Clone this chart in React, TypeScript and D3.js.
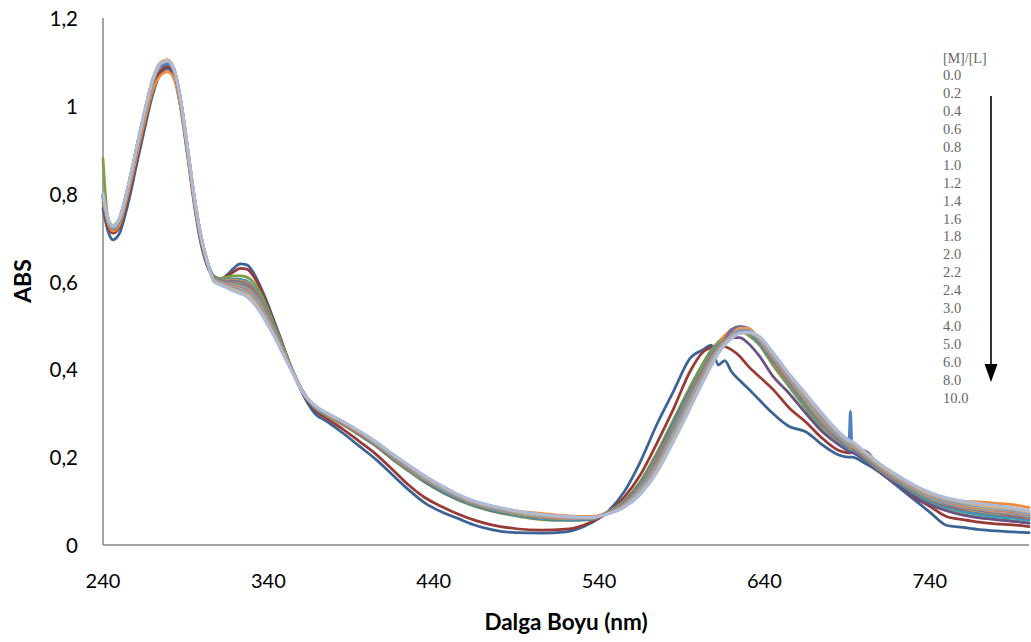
import React, { useEffect, useRef } from 'react';
import * as d3 from 'd3';

const WAVELENGTHS = [240, 243, 246, 250, 255, 260, 265, 270, 275, 279, 283, 287, 291, 295, 299, 303,
  307, 311, 315, 319, 323, 327, 331, 335, 339, 343, 347, 351, 355, 360,
  368, 376, 385, 395, 405, 415, 425, 435, 445, 455, 465, 475, 490, 505, 520, 535,
  545, 555, 565, 575, 585, 595, 603, 608, 612, 616, 620, 625, 630, 637, 645, 655, 665, 675, 685,
  691, 692, 693, 700, 710, 720, 730, 740, 750, 760, 770, 780, 790, 800];

const S_0_0 = [0.765, 0.715, 0.695, 0.71, 0.775, 0.86, 0.945, 1.025, 1.075, 1.085, 1.065, 0.995, 0.89, 0.78, 0.69, 0.635,
  0.61, 0.605, 0.615, 0.63, 0.64, 0.638, 0.62, 0.59, 0.555, 0.515, 0.475, 0.432, 0.392, 0.35,
  0.3, 0.28, 0.255, 0.225, 0.195, 0.16, 0.125, 0.095, 0.075, 0.06, 0.045, 0.035, 0.028, 0.027, 0.03, 0.05,
  0.075, 0.12, 0.19, 0.275, 0.35, 0.425, 0.445, 0.455, 0.41, 0.42, 0.395, 0.375, 0.357, 0.33, 0.3, 0.27, 0.258, 0.228, 0.205,
  0.2, 0.2, 0.2, 0.188, 0.165, 0.135, 0.105, 0.075, 0.045, 0.04, 0.035, 0.032, 0.03, 0.028];
const S_0_2 = [0.78, 0.725, 0.71, 0.725, 0.79, 0.875, 0.96, 1.035, 1.08, 1.09, 1.07, 1.0, 0.895, 0.785, 0.695, 0.64,
  0.612, 0.605, 0.612, 0.622, 0.63, 0.628, 0.612, 0.585, 0.55, 0.512, 0.473, 0.432, 0.392, 0.352,
  0.307, 0.286, 0.264, 0.236, 0.207, 0.172, 0.136, 0.107, 0.087, 0.07, 0.056, 0.046, 0.037, 0.034, 0.036, 0.052,
  0.073, 0.108, 0.16, 0.232, 0.31, 0.395, 0.44, 0.45, 0.455, 0.452, 0.445, 0.43, 0.408, 0.383, 0.355, 0.312, 0.28, 0.243, 0.215,
  0.21, 0.21, 0.212, 0.215, 0.175, 0.14, 0.11, 0.088, 0.065, 0.058, 0.052, 0.048, 0.046, 0.042];
const S_0_4 = [0.88, 0.745, 0.728, 0.745, 0.815, 0.9, 0.985, 1.06, 1.098, 1.102, 1.082, 1.012, 0.907, 0.797, 0.707, 0.647,
  0.612, 0.607, 0.61, 0.613, 0.613, 0.61, 0.598, 0.575, 0.543, 0.507, 0.47, 0.432, 0.395, 0.355,
  0.312, 0.293, 0.274, 0.25, 0.225, 0.195, 0.168, 0.142, 0.12, 0.102, 0.088, 0.077, 0.066, 0.058, 0.056, 0.058,
  0.075, 0.1, 0.145, 0.21, 0.285, 0.36, 0.415, 0.445, 0.462, 0.475, 0.485, 0.487, 0.478, 0.455, 0.41, 0.36, 0.31, 0.262, 0.23,
  0.215, 0.213, 0.212, 0.195, 0.165, 0.14, 0.115, 0.095, 0.08, 0.07, 0.063, 0.058, 0.055, 0.05];
const S_0_6 = [0.79, 0.738, 0.72, 0.738, 0.808, 0.893, 0.978, 1.053, 1.093, 1.098, 1.078, 1.008, 0.903, 0.793, 0.703, 0.645,
  0.61, 0.603, 0.603, 0.603, 0.602, 0.598, 0.586, 0.565, 0.535, 0.5, 0.465, 0.428, 0.393, 0.353,
  0.313, 0.294, 0.275, 0.252, 0.227, 0.197, 0.17, 0.144, 0.122, 0.104, 0.09, 0.079, 0.068, 0.06, 0.057, 0.059,
  0.074, 0.098, 0.14, 0.203, 0.278, 0.352, 0.405, 0.435, 0.452, 0.465, 0.472, 0.472, 0.46, 0.43, 0.385, 0.345, 0.3, 0.258, 0.228,
  0.214, 0.212, 0.211, 0.195, 0.165, 0.138, 0.112, 0.092, 0.078, 0.068, 0.062, 0.058, 0.054, 0.05];
const S_0_8 = [0.795, 0.74, 0.722, 0.74, 0.81, 0.895, 0.98, 1.055, 1.095, 1.1, 1.08, 1.01, 0.905, 0.795, 0.705, 0.645,
  0.61, 0.604, 0.605, 0.606, 0.605, 0.601, 0.588, 0.566, 0.535, 0.501, 0.466, 0.429, 0.394, 0.354,
  0.313, 0.294, 0.276, 0.252, 0.227, 0.198, 0.171, 0.145, 0.123, 0.105, 0.09, 0.08, 0.068, 0.06, 0.058, 0.059,
  0.074, 0.097, 0.139, 0.201, 0.275, 0.35, 0.406, 0.438, 0.457, 0.471, 0.487, 0.491, 0.484, 0.459, 0.416, 0.366, 0.317, 0.27, 0.236,
  0.22, 0.218, 0.217, 0.199, 0.169, 0.144, 0.12, 0.1, 0.086, 0.076, 0.069, 0.064, 0.061, 0.056];
const S_1_0 = [0.785, 0.732, 0.715, 0.73, 0.798, 0.88, 0.963, 1.035, 1.07, 1.078, 1.062, 0.995, 0.893, 0.785, 0.697, 0.64,
  0.608, 0.603, 0.603, 0.603, 0.601, 0.597, 0.584, 0.562, 0.532, 0.498, 0.463, 0.428, 0.394, 0.354,
  0.314, 0.295, 0.276, 0.253, 0.228, 0.199, 0.172, 0.147, 0.13, 0.112, 0.098, 0.088, 0.078, 0.072, 0.067, 0.065,
  0.074, 0.096, 0.136, 0.197, 0.27, 0.345, 0.402, 0.434, 0.454, 0.477, 0.489, 0.494, 0.488, 0.467, 0.419, 0.369, 0.321, 0.273, 0.238,
  0.223, 0.221, 0.219, 0.201, 0.171, 0.146, 0.128, 0.115, 0.105, 0.1, 0.098, 0.095, 0.092, 0.085];
const S_1_2 = [0.792, 0.738, 0.72, 0.738, 0.808, 0.893, 0.978, 1.053, 1.09, 1.095, 1.076, 1.007, 0.903, 0.795, 0.705, 0.645,
  0.608, 0.602, 0.601, 0.601, 0.599, 0.594, 0.581, 0.559, 0.53, 0.497, 0.462, 0.427, 0.393, 0.354,
  0.314, 0.295, 0.277, 0.254, 0.229, 0.2, 0.173, 0.147, 0.125, 0.107, 0.092, 0.082, 0.07, 0.062, 0.059, 0.06,
  0.073, 0.095, 0.135, 0.194, 0.268, 0.343, 0.4, 0.432, 0.453, 0.468, 0.49, 0.495, 0.49, 0.462, 0.421, 0.371, 0.322, 0.275, 0.24,
  0.224, 0.305, 0.222, 0.202, 0.172, 0.147, 0.123, 0.104, 0.09, 0.081, 0.074, 0.069, 0.066, 0.06];
const S_1_4 = [0.795, 0.74, 0.722, 0.74, 0.81, 0.895, 0.98, 1.055, 1.095, 1.1, 1.08, 1.01, 0.905, 0.795, 0.705, 0.645,
  0.607, 0.601, 0.6, 0.599, 0.597, 0.592, 0.579, 0.557, 0.528, 0.495, 0.461, 0.426, 0.393, 0.354,
  0.314, 0.296, 0.277, 0.254, 0.229, 0.2, 0.174, 0.148, 0.126, 0.107, 0.093, 0.082, 0.071, 0.063, 0.06, 0.06,
  0.073, 0.094, 0.133, 0.192, 0.265, 0.34, 0.398, 0.43, 0.451, 0.467, 0.49, 0.496, 0.492, 0.463, 0.422, 0.372, 0.324, 0.277, 0.241,
  0.225, 0.223, 0.222, 0.203, 0.173, 0.148, 0.124, 0.105, 0.091, 0.082, 0.076, 0.071, 0.067, 0.061];
const S_1_6 = [0.797, 0.742, 0.724, 0.742, 0.812, 0.897, 0.982, 1.057, 1.097, 1.102, 1.082, 1.012, 0.907, 0.797, 0.707, 0.646,
  0.607, 0.6, 0.599, 0.597, 0.595, 0.59, 0.576, 0.555, 0.526, 0.494, 0.46, 0.426, 0.393, 0.354,
  0.315, 0.296, 0.278, 0.255, 0.23, 0.201, 0.174, 0.149, 0.127, 0.108, 0.093, 0.083, 0.071, 0.063, 0.06, 0.06,
  0.073, 0.093, 0.132, 0.19, 0.263, 0.338, 0.396, 0.428, 0.45, 0.466, 0.49, 0.497, 0.493, 0.464, 0.424, 0.374, 0.326, 0.279, 0.243,
  0.226, 0.224, 0.223, 0.204, 0.174, 0.149, 0.125, 0.106, 0.093, 0.084, 0.077, 0.072, 0.069, 0.063];
const S_1_8 = [0.795, 0.74, 0.722, 0.74, 0.81, 0.895, 0.98, 1.055, 1.095, 1.1, 1.08, 1.01, 0.905, 0.795, 0.705, 0.645,
  0.606, 0.6, 0.598, 0.596, 0.593, 0.588, 0.574, 0.553, 0.524, 0.493, 0.459, 0.425, 0.393, 0.354,
  0.315, 0.297, 0.278, 0.255, 0.231, 0.202, 0.175, 0.15, 0.128, 0.109, 0.094, 0.084, 0.072, 0.064, 0.061, 0.061,
  0.073, 0.093, 0.13, 0.188, 0.26, 0.335, 0.394, 0.427, 0.449, 0.465, 0.49, 0.497, 0.494, 0.465, 0.425, 0.375, 0.328, 0.281, 0.244,
  0.228, 0.226, 0.224, 0.205, 0.175, 0.15, 0.127, 0.108, 0.094, 0.085, 0.079, 0.074, 0.07, 0.064];
const S_2_0 = [0.798, 0.743, 0.725, 0.743, 0.813, 0.898, 0.983, 1.058, 1.098, 1.103, 1.083, 1.013, 0.908, 0.798, 0.708, 0.647,
  0.605, 0.599, 0.596, 0.594, 0.59, 0.585, 0.572, 0.55, 0.522, 0.491, 0.458, 0.424, 0.392, 0.353,
  0.315, 0.297, 0.278, 0.256, 0.231, 0.202, 0.176, 0.15, 0.128, 0.109, 0.095, 0.084, 0.073, 0.065, 0.061, 0.061,
  0.072, 0.092, 0.129, 0.185, 0.258, 0.333, 0.391, 0.425, 0.447, 0.464, 0.477, 0.494, 0.494, 0.466, 0.427, 0.377, 0.329, 0.283, 0.245,
  0.229, 0.227, 0.225, 0.206, 0.176, 0.151, 0.128, 0.109, 0.095, 0.087, 0.081, 0.076, 0.072, 0.065];
const S_2_2 = [0.796, 0.741, 0.723, 0.741, 0.811, 0.896, 0.981, 1.056, 1.096, 1.101, 1.081, 1.011, 0.906, 0.796, 0.706, 0.646,
  0.605, 0.598, 0.595, 0.592, 0.588, 0.583, 0.569, 0.548, 0.52, 0.49, 0.457, 0.424, 0.392, 0.353,
  0.316, 0.297, 0.279, 0.256, 0.232, 0.203, 0.176, 0.151, 0.129, 0.11, 0.095, 0.085, 0.073, 0.065, 0.061, 0.061,
  0.072, 0.091, 0.127, 0.183, 0.255, 0.33, 0.389, 0.423, 0.446, 0.463, 0.476, 0.493, 0.493, 0.467, 0.428, 0.378, 0.331, 0.285, 0.247,
  0.23, 0.228, 0.226, 0.207, 0.177, 0.152, 0.129, 0.11, 0.097, 0.088, 0.082, 0.077, 0.073, 0.067];
const S_2_4 = [0.797, 0.742, 0.724, 0.742, 0.812, 0.897, 0.982, 1.057, 1.097, 1.102, 1.082, 1.012, 0.907, 0.797, 0.707, 0.646,
  0.604, 0.597, 0.594, 0.59, 0.586, 0.581, 0.567, 0.546, 0.518, 0.488, 0.456, 0.423, 0.392, 0.353,
  0.316, 0.298, 0.279, 0.257, 0.232, 0.203, 0.177, 0.152, 0.13, 0.11, 0.096, 0.085, 0.074, 0.066, 0.062, 0.061,
  0.072, 0.09, 0.126, 0.181, 0.253, 0.328, 0.387, 0.421, 0.444, 0.462, 0.475, 0.488, 0.488, 0.468, 0.43, 0.38, 0.333, 0.287, 0.248,
  0.231, 0.229, 0.228, 0.208, 0.178, 0.153, 0.13, 0.111, 0.098, 0.09, 0.084, 0.079, 0.075, 0.068];
const S_3_0 = [0.798, 0.743, 0.725, 0.743, 0.813, 0.898, 0.983, 1.058, 1.098, 1.103, 1.083, 1.013, 0.908, 0.798, 0.708, 0.647,
  0.604, 0.597, 0.593, 0.589, 0.584, 0.579, 0.564, 0.544, 0.516, 0.487, 0.455, 0.422, 0.392, 0.353,
  0.316, 0.298, 0.28, 0.257, 0.233, 0.204, 0.178, 0.153, 0.131, 0.111, 0.096, 0.086, 0.074, 0.066, 0.062, 0.062,
  0.072, 0.09, 0.124, 0.179, 0.25, 0.325, 0.385, 0.419, 0.443, 0.461, 0.475, 0.484, 0.483, 0.469, 0.431, 0.381, 0.335, 0.289, 0.25,
  0.233, 0.231, 0.229, 0.209, 0.179, 0.154, 0.131, 0.113, 0.1, 0.091, 0.085, 0.08, 0.076, 0.07];
const S_4_0 = [0.796, 0.741, 0.723, 0.741, 0.811, 0.896, 0.981, 1.056, 1.096, 1.101, 1.081, 1.011, 0.906, 0.796, 0.706, 0.646,
  0.603, 0.596, 0.591, 0.587, 0.582, 0.576, 0.562, 0.541, 0.515, 0.485, 0.454, 0.422, 0.391, 0.353,
  0.317, 0.298, 0.28, 0.258, 0.233, 0.205, 0.179, 0.153, 0.131, 0.112, 0.097, 0.087, 0.075, 0.067, 0.063, 0.062,
  0.071, 0.089, 0.123, 0.176, 0.248, 0.323, 0.383, 0.417, 0.442, 0.46, 0.474, 0.483, 0.483, 0.47, 0.433, 0.383, 0.336, 0.291, 0.251,
  0.234, 0.232, 0.23, 0.21, 0.18, 0.155, 0.132, 0.114, 0.101, 0.093, 0.087, 0.082, 0.078, 0.071];
const S_5_0 = [0.799, 0.744, 0.726, 0.744, 0.814, 0.899, 0.984, 1.059, 1.099, 1.104, 1.084, 1.014, 0.909, 0.799, 0.709, 0.647,
  0.602, 0.595, 0.59, 0.585, 0.58, 0.574, 0.56, 0.539, 0.513, 0.484, 0.452, 0.421, 0.391, 0.353,
  0.317, 0.299, 0.28, 0.258, 0.234, 0.205, 0.179, 0.154, 0.132, 0.112, 0.098, 0.087, 0.076, 0.068, 0.063, 0.062,
  0.071, 0.088, 0.121, 0.174, 0.245, 0.32, 0.381, 0.415, 0.44, 0.459, 0.473, 0.483, 0.484, 0.471, 0.434, 0.384, 0.338, 0.292, 0.252,
  0.235, 0.233, 0.231, 0.211, 0.181, 0.156, 0.133, 0.115, 0.102, 0.094, 0.089, 0.084, 0.079, 0.072];
const S_6_0 = [0.797, 0.742, 0.724, 0.742, 0.812, 0.897, 0.982, 1.057, 1.097, 1.102, 1.082, 1.012, 0.907, 0.797, 0.707, 0.646,
  0.602, 0.594, 0.589, 0.583, 0.578, 0.572, 0.557, 0.537, 0.511, 0.482, 0.451, 0.42, 0.391, 0.352,
  0.317, 0.299, 0.281, 0.259, 0.234, 0.206, 0.18, 0.155, 0.133, 0.113, 0.098, 0.088, 0.076, 0.068, 0.064, 0.062,
  0.071, 0.087, 0.12, 0.172, 0.243, 0.318, 0.378, 0.414, 0.439, 0.458, 0.472, 0.483, 0.484, 0.472, 0.436, 0.386, 0.34, 0.294, 0.254,
  0.236, 0.234, 0.232, 0.212, 0.182, 0.157, 0.135, 0.116, 0.104, 0.096, 0.09, 0.085, 0.081, 0.074];
const S_8_0 = [0.8, 0.745, 0.727, 0.745, 0.815, 0.9, 0.985, 1.06, 1.1, 1.105, 1.085, 1.015, 0.91, 0.8, 0.71, 0.648,
  0.601, 0.593, 0.587, 0.581, 0.575, 0.569, 0.554, 0.534, 0.508, 0.48, 0.45, 0.419, 0.39, 0.352,
  0.318, 0.299, 0.281, 0.259, 0.235, 0.207, 0.181, 0.156, 0.134, 0.114, 0.099, 0.089, 0.077, 0.069, 0.064, 0.063,
  0.07, 0.086, 0.117, 0.169, 0.239, 0.314, 0.375, 0.411, 0.437, 0.457, 0.471, 0.482, 0.484, 0.473, 0.438, 0.388, 0.342, 0.297, 0.256,
  0.238, 0.236, 0.234, 0.213, 0.183, 0.158, 0.136, 0.118, 0.106, 0.098, 0.092, 0.087, 0.083, 0.076];
const S_10_0 = [0.8, 0.745, 0.727, 0.745, 0.815, 0.9, 0.985, 1.058, 1.097, 1.103, 1.083, 1.013, 0.908, 0.798, 0.708, 0.647,
  0.6, 0.592, 0.585, 0.578, 0.572, 0.565, 0.55, 0.53, 0.505, 0.478, 0.448, 0.418, 0.39, 0.352,
  0.318, 0.3, 0.282, 0.26, 0.236, 0.208, 0.182, 0.157, 0.135, 0.115, 0.1, 0.09, 0.078, 0.07, 0.065, 0.063,
  0.07, 0.085, 0.115, 0.165, 0.235, 0.31, 0.372, 0.408, 0.435, 0.455, 0.47, 0.482, 0.485, 0.475, 0.44, 0.39, 0.345, 0.3, 0.258,
  0.24, 0.238, 0.236, 0.215, 0.185, 0.16, 0.138, 0.12, 0.108, 0.1, 0.095, 0.09, 0.085, 0.078];

const SERIES_VALUES = [S_0_0, S_0_2, S_0_4, S_0_6, S_0_8, S_1_0, S_1_2, S_1_4, S_1_6, S_1_8,
  S_2_0, S_2_2, S_2_4, S_3_0, S_4_0, S_5_0, S_6_0, S_8_0, S_10_0];
const SERIES_LABELS = ['0.0', '0.2', '0.4', '0.6', '0.8', '1.0', '1.2', '1.4', '1.6', '1.8',
  '2.0', '2.2', '2.4', '3.0', '4.0', '5.0', '6.0', '8.0', '10.0'];
const SERIES_COLORS = ['#3B6396', '#983A36', '#7F9E45', '#6A5287', '#3B9BB5', '#F28A3C', '#4F81BD', '#C0504D',
  '#9BBB59', '#8064A2', '#4BACC6', '#F79646', '#729ACA', '#CD7371', '#AFC97A', '#9983B5', '#6FBDD1', '#F9AB6B', '#AABCDD'];
const LEGEND_TITLE = '[M]/[L]';
const X_TICKS = [240, 340, 440, 540, 640, 740];
const Y_TICKS = [0, 0.2, 0.4, 0.6, 0.8, 1, 1.2];
const Y_TICK_LABELS = ['0', '0,2', '0,4', '0,6', '0,8', '1', '1,2'];
const X_TITLE = 'Dalga Boyu (nm)';
const Y_TITLE = 'ABS';

export default function App() {
  const ref = useRef<SVGSVGElement>(null);
  useEffect(() => {
    const svg = d3.select(ref.current);
    svg.selectAll('*').remove();
    const x = d3.scaleLinear().domain([240, 800]).range([103, 1029]);
    const y = d3.scaleLinear().domain([0, 1.2]).range([545, 18]);
    const font = 'Lato, "Open Sans", sans-serif';

    const axisColor = '#868686';
    svg.append('line').attr('x1', x(240)).attr('x2', x(240)).attr('y1', y(1.2)).attr('y2', y(0))
      .attr('stroke', axisColor).attr('stroke-width', 1.5);
    svg.append('line').attr('x1', x(240)).attr('x2', x(800)).attr('y1', y(0)).attr('y2', y(0))
      .attr('stroke', axisColor).attr('stroke-width', 1.5);

    const line = d3.line<number>()
      .x((_, i) => x(WAVELENGTHS[i]))
      .y((d) => y(d))
      .curve(d3.curveMonotoneX);

    SERIES_VALUES.forEach((vals, i) => {
      svg.append('path').attr('d', line(vals) || '').attr('fill', 'none')
        .attr('stroke', SERIES_COLORS[i]).attr('stroke-width', 2.75)
        .attr('stroke-linejoin', 'round').attr('stroke-linecap', 'round');
    });

    Y_TICKS.forEach((v, i) => {
      svg.append('text').attr('x', 78).attr('y', y(v)).attr('text-anchor', 'end')
        .attr('dominant-baseline', 'central').attr('font-family', font).attr('font-size', 20.5)
        .attr('fill', '#000').text(Y_TICK_LABELS[i]);
    });
    X_TICKS.forEach((v) => {
      svg.append('text').attr('x', x(v)).attr('y', 580).attr('text-anchor', 'middle')
        .attr('dominant-baseline', 'central').attr('font-family', font).attr('font-size', 20)
        .attr('fill', '#000').text(String(v));
    });
    svg.append('text').attr('x', 566).attr('y', 621).attr('text-anchor', 'middle')
      .attr('dominant-baseline', 'central').attr('font-family', font).attr('font-size', 22.5)
      .attr('font-weight', 'bold').attr('fill', '#000').text(X_TITLE);
    svg.append('text').attr('transform', 'translate(22,281) rotate(-90)').attr('text-anchor', 'middle')
      .attr('dominant-baseline', 'central').attr('font-family', font).attr('font-size', 23)
      .attr('font-weight', 'bold').attr('fill', '#000').text(Y_TITLE);

    const legFont = '"Liberation Serif", "DejaVu Serif", serif';
    svg.append('text').attr('x', 943).attr('y', 58).attr('dominant-baseline', 'central')
      .attr('font-family', legFont).attr('font-size', 14).attr('fill', '#666').text(LEGEND_TITLE);
    SERIES_LABELS.forEach((lab, i) => {
      svg.append('text').attr('x', 943).attr('y', 75 + i * 17.94).attr('dominant-baseline', 'central')
        .attr('font-family', legFont).attr('font-size', 14.5).attr('fill', '#666').text(lab);
    });
    svg.append('line').attr('x1', 991).attr('x2', 991).attr('y1', 96).attr('y2', 368)
      .attr('stroke', '#000').attr('stroke-width', 1.6);
    svg.append('polygon').attr('points', '984.5,364 997.5,364 991,382').attr('fill', '#000');
  }, []);
  return (
    <svg ref={ref} width={1031} height={642}
      style={{ position: 'absolute', left: 0, top: 0, background: '#fff' }} />
  );
}
